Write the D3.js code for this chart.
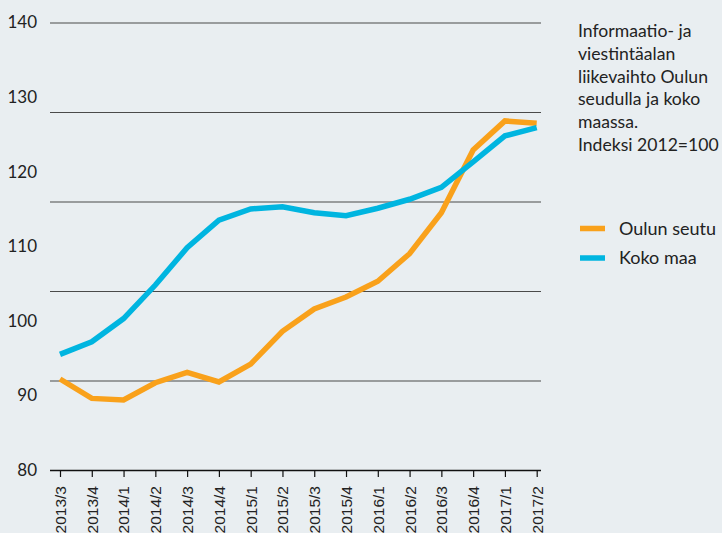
<!DOCTYPE html>
<html>
<head>
<meta charset="utf-8">
<script src="https://cdn.jsdelivr.net/npm/d3@7"></script>
<style>
  html, body { margin: 0; padding: 0; background: #e9eef1; }
  svg { display: block; }
</style>
</head>
<body>
<svg id="chart" width="722" height="533"></svg>
<script>
// Quarterly turnover index of the information & communication sector (2012 = 100)
const quarters = ["2013/3","2013/4","2014/1","2014/2","2014/3","2014/4","2015/1","2015/2",
                  "2015/3","2015/4","2016/1","2016/2","2016/3","2016/4","2017/1","2017/2"];
const oulunSeutu = [92.2, 89.6, 89.4, 91.7, 93.1, 91.8, 94.2, 98.6,
                    101.6, 103.2, 105.3, 109.0, 114.5, 122.9, 126.8, 126.5];
const kokoMaa = [95.5, 97.2, 100.3, 104.8, 109.8, 113.5, 115.0, 115.3,
                 114.5, 114.1, 115.1, 116.3, 117.9, 121.3, 124.8, 125.9];
const yTickLabels = [80, 90, 100, 110, 120, 130, 140];
const gridValues = [92, 104, 116, 128, 140];
const seriesNames = ["Oulun seutu", "Koko maa"];
const titleLines = ["Informaatio- ja", "viestintäalan", "liikevaihto Oulun",
                    "seudulla ja koko", "maassa.", "Indeksi 2012=100"];

const colors = ["#f9a11b", "#00b5e0"];
const svg = d3.select("#chart");

const plotLeft = 50, plotRight = 541;
const x = d3.scalePoint().domain(quarters).range([60, 536.7]);
const y = d3.scaleLinear().domain([80, 140]).range([470, 22.5]);

// horizontal grid lines
svg.append("g")
  .attr("transform", `translate(${plotLeft},0)`)
  .call(d3.axisRight(y).tickValues(gridValues).tickSize(plotRight - plotLeft).tickFormat(""))
  .call(g => g.select(".domain").remove())
  .call(g => g.selectAll(".tick line").attr("stroke", "#4a4a4a").attr("stroke-width", 1.2));

// y-axis labels
svg.append("g")
  .attr("transform", "translate(37,0)")
  .call(d3.axisLeft(y).tickValues(yTickLabels).tickSize(0).tickPadding(0))
  .call(g => g.select(".domain").remove())
  .call(g => g.selectAll("text")
    .attr("font-family", "Lato, sans-serif")
    .attr("font-size", 17)
    .attr("fill", "#222"));

// x axis
const xAxis = svg.append("g")
  .attr("transform", "translate(0,470)")
  .call(d3.axisBottom(x).tickSize(7).tickPadding(6).tickSizeOuter(0));
xAxis.select(".domain").attr("d", `M${plotLeft},0.5H${plotRight}`).attr("stroke", "#111").attr("stroke-width", 1.5);
xAxis.selectAll(".tick line").attr("stroke", "#111").attr("stroke-width", 1.2);
xAxis.selectAll("text")
  .attr("font-family", "'Liberation Sans Narrow', 'Arial Narrow', sans-serif")
  .attr("font-size", 15.5)
  .attr("fill", "#222")
  .attr("text-anchor", "end")
  .attr("transform", "rotate(-90)")
  .attr("x", -16)
  .attr("y", 0)
  .attr("dy", "0.35em");

// series lines
const line = d3.line().x((d, i) => x(quarters[i])).y(d => y(d));
[oulunSeutu, kokoMaa].forEach((vals, k) => {
  svg.append("path")
    .datum(vals)
    .attr("d", line)
    .attr("fill", "none")
    .attr("stroke", colors[k])
    .attr("stroke-width", 5.5)
    .attr("stroke-linejoin", "miter");
});

// title block
const title = svg.append("text")
  .attr("font-family", "Lato, sans-serif")
  .attr("font-size", 17.6)
  .attr("fill", "#222");
titleLines.forEach((t, i) => {
  title.append("tspan").attr("x", 578).attr("y", 37 + i * 22.8).text(t);
});

// legend
const legend = svg.append("g");
seriesNames.forEach((name, i) => {
  const ly = 228.5 + i * 29.5;
  legend.append("rect").attr("x", 580).attr("y", ly - 2.75).attr("width", 25).attr("height", 5.5).attr("fill", colors[i]);
  legend.append("text").attr("x", 619).attr("y", ly).attr("dy", "0.35em")
    .attr("font-family", "Lato, sans-serif").attr("font-size", 18).attr("fill", "#222").text(name);
});
</script>
</body>
</html>
